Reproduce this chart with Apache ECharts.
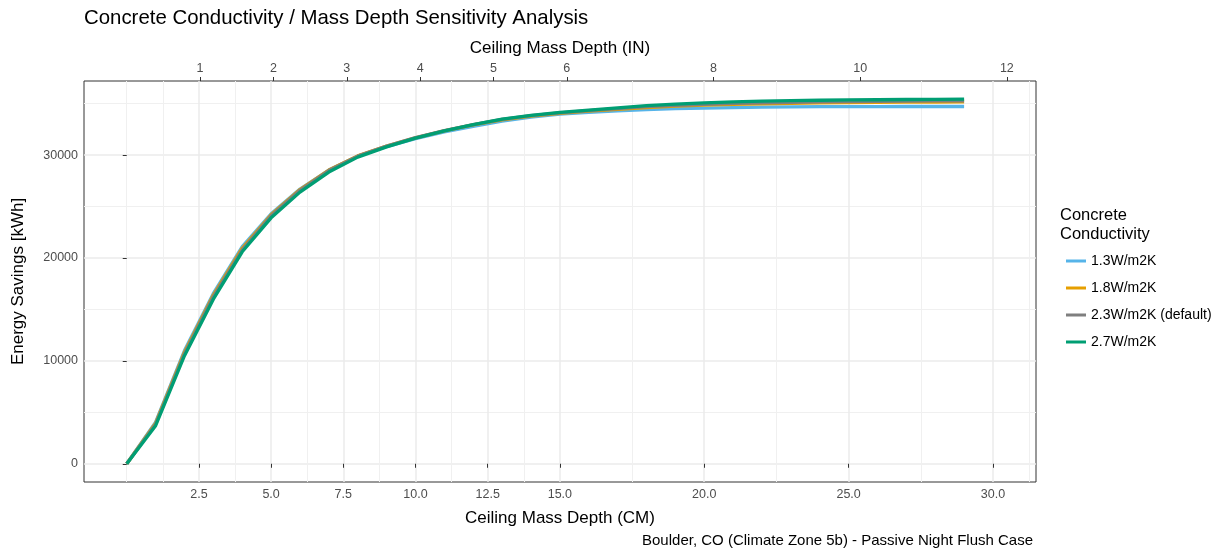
<!DOCTYPE html>
<html>
<head>
<meta charset="utf-8">
<title>Concrete Conductivity / Mass Depth Sensitivity Analysis</title>
<script src="https://cdn.jsdelivr.net/npm/echarts@6/dist/echarts.min.js"></script>
<style>
  html, body { margin: 0; padding: 0; background: #ffffff; }
  #chart { width: 1219px; height: 552px; }
</style>
</head>
<body>
<div id="chart"></div>
<script>
// Ceiling mass depth in centimetres
const depthCm = [0, 1, 2, 3, 4, 5, 6, 7, 8, 9, 10, 11, 12, 13, 14, 15, 16, 17, 18, 19, 20, 21, 22, 23, 24, 25, 26, 27, 28, 29];

// Energy savings [kWh] for each concrete conductivity
const savings13 = [0, 4050, 11000, 16550, 21100, 24300, 26700, 28550, 29900, 30830, 31600, 32250, 32800, 33300, 33700, 33980, 34150, 34300, 34420, 34510, 34570, 34620, 34660, 34680, 34700, 34710, 34710, 34720, 34720, 34720];
const savings18 = [0, 3950, 10850, 16400, 20950, 24200, 26650, 28550, 29920, 30880, 31680, 32350, 32930, 33430, 33780, 34060, 34270, 34450, 34610, 34750, 34850, 34920, 34980, 35030, 35070, 35100, 35120, 35140, 35160, 35170];
const savings23 = [0, 3850, 10700, 16250, 20800, 24100, 26580, 28500, 29900, 30870, 31690, 32380, 32970, 33480, 33830, 34110, 34320, 34520, 34700, 34840, 34940, 35020, 35080, 35130, 35170, 35200, 35220, 35240, 35260, 35270];
const savings27 = [0, 3700, 10500, 16000, 20600, 23900, 26400, 28350, 29800, 30800, 31650, 32350, 32950, 33500, 33850, 34150, 34370, 34590, 34800, 34960, 35070, 35180, 35250, 35300, 35330, 35360, 35380, 35400, 35420, 35430];

const seriesNames = ['1.3W/m2K', '1.8W/m2K', '2.3W/m2K (default)', '2.7W/m2K'];

// Tick labels and grid breaks
const cmTicks = [2.5, 5, 7.5, 10, 12.5, 15, 20, 25, 30];
const cmMinorBreaks = [0, 1.25, 3.75, 6.25, 8.75, 11.25, 13.75, 17.5, 22.5, 27.5, 31.25];
const inchTicks = [1, 2, 3, 4, 5, 6, 8, 10, 12];
const savingsTicks = [0, 10000, 20000, 30000];
const savingsMinorBreaks = [5000, 15000, 25000, 35000];

const X_MIN = -1.48, X_MAX = 31.49;
const Y_MIN = -1772, Y_MAX = 37200;
const CM_PER_IN = 2.54;

const FONT = '"Liberation Sans", Arial, sans-serif';
const colors = ['#56B4E9', '#E69F00', '#7F7F7F', '#009E73'];
const seriesData = [savings13, savings18, savings23, savings27];

const chart = echarts.init(document.getElementById('chart'), null, { renderer: 'canvas' });

const titleStyle = { fontSize: 17, color: '#000000', fontFamily: FONT };
const tickLabelStyle = { fontSize: 12.5, color: '#4D4D4D', fontFamily: FONT };
const tickLine = { color: '#333333', width: 1 };

const option = {
  backgroundColor: '#ffffff',
  animation: false,
  textStyle: { fontFamily: FONT },
  grid: {
    left: 84, right: 183, top: 81, bottom: 70,
    outerBoundsMode: 'none',
    containLabel: false,
    show: true,
    backgroundColor: '#ffffff',
    borderColor: '#333333',
    borderWidth: 1
  },
  xAxis: [
    // minor vertical grid lines
    {
      type: 'value', position: 'bottom', min: X_MIN, max: X_MAX,
      axisLine: { show: false },
      axisTick: { show: false, customValues: cmMinorBreaks },
      axisLabel: { show: false, customValues: cmMinorBreaks },
      splitLine: { show: true, lineStyle: { color: '#F0F0F0', width: 1 } }
    },
    // bottom axis, centimetres
    {
      type: 'value', position: 'bottom', min: X_MIN, max: X_MAX,
      name: 'Ceiling Mass Depth (CM)', nameLocation: 'middle', nameGap: 28,
      nameMoveOverlap: false,
      nameTextStyle: titleStyle,
      axisLine: { show: false },
      axisTick: { show: true, length: 4, customValues: cmTicks, lineStyle: tickLine },
      axisLabel: Object.assign({ show: true, customValues: cmTicks, margin: 6, formatter: v => v.toFixed(1) }, tickLabelStyle),
      splitLine: { show: true, lineStyle: { color: '#EBEBEB', width: 1.5 } }
    },
    // top axis, inches
    {
      type: 'value', position: 'top', min: X_MIN / CM_PER_IN, max: X_MAX / CM_PER_IN,
      name: 'Ceiling Mass Depth (IN)', nameLocation: 'middle', nameGap: 24,
      nameMoveOverlap: false,
      nameTextStyle: titleStyle,
      axisLine: { show: false },
      axisTick: { show: true, length: 4, customValues: inchTicks, lineStyle: tickLine },
      axisLabel: Object.assign({ show: true, customValues: inchTicks, margin: 6, formatter: v => String(v) }, tickLabelStyle),
      splitLine: { show: false }
    }
  ],
  yAxis: [
    // minor horizontal grid lines
    {
      type: 'value', position: 'left', min: Y_MIN, max: Y_MAX,
      axisLine: { show: false },
      axisTick: { show: false, customValues: savingsMinorBreaks },
      axisLabel: { show: false, customValues: savingsMinorBreaks },
      splitLine: { show: true, lineStyle: { color: '#F0F0F0', width: 1 } }
    },
    {
      type: 'value', position: 'left', min: Y_MIN, max: Y_MAX,
      name: 'Energy Savings [kWh]', nameLocation: 'middle', nameGap: 57, nameRotate: 90,
      nameMoveOverlap: false,
      nameTextStyle: titleStyle,
      axisLine: { show: false },
      axisTick: { show: true, length: 4, customValues: savingsTicks, lineStyle: tickLine },
      axisLabel: Object.assign({ show: true, customValues: savingsTicks, margin: 6, formatter: v => String(v) }, tickLabelStyle),
      splitLine: { show: true, lineStyle: { color: '#EBEBEB', width: 1.5 } }
    }
  ],
  legend: {
    orient: 'vertical',
    left: 1061, top: 249,
    itemWidth: 20, itemHeight: 3, itemGap: 13,
    icon: 'rect',
    data: seriesNames,
    textStyle: { fontSize: 14, color: '#000000', fontFamily: FONT, lineHeight: 14 },
    selectedMode: false
  },
  graphic: [
    {
      type: 'text', left: 84, top: 8,
      style: { text: 'Concrete Conductivity / Mass Depth Sensitivity Analysis', fontSize: 20.4, fill: '#000000', fontFamily: FONT }
    },
    {
      type: 'text', left: 1060, top: 206,
      style: { text: 'Concrete\nConductivity', fontSize: 16.5, lineHeight: 19, fill: '#000000', fontFamily: FONT }
    },
    {
      type: 'text', right: 186, top: 533,
      style: { text: 'Boulder, CO (Climate Zone 5b) - Passive Night Flush Case', fontSize: 15, fill: '#000000', fontFamily: FONT, align: 'right' }
    }
  ],
  series: seriesNames.map((name, i) => ({
    name: name,
    type: 'line',
    xAxisIndex: 1,
    yAxisIndex: 1,
    data: depthCm.map((d, j) => [d, seriesData[i][j]]),
    showSymbol: false,
    symbol: 'none',
    smooth: false,
    color: colors[i],
    lineStyle: { color: colors[i], width: 3.3 },
    z: 3 + i
  }))
};

chart.setOption(option);
</script>
</body>
</html>
